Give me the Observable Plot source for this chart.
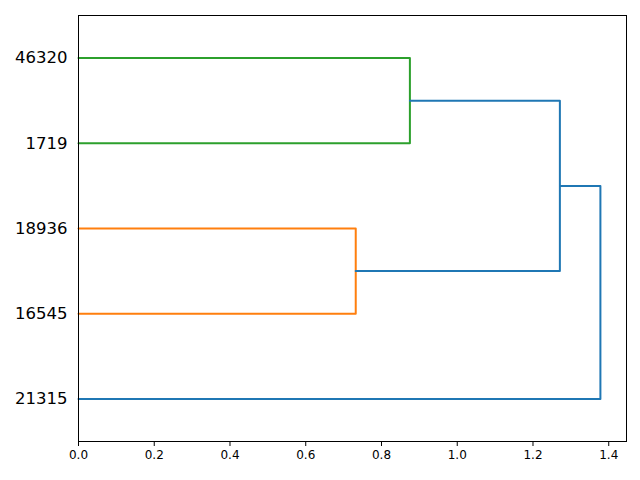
<!DOCTYPE html>
<html>
<head>
<meta charset="utf-8">
<script src="https://cdn.jsdelivr.net/npm/d3@7"></script>
<script src="https://cdn.jsdelivr.net/npm/@observablehq/plot@0.6"></script>
<style>
  body { margin: 0; background: #fff; }
  svg { display: block; }
</style>
</head>
<body>
<div id="chart"></div>
<script>
// Leaves, bottom to top
const leaves = ["21315", "16545", "18936", "1719", "46320"];
// Merges (children by leaf label or merge index "m#"), height, colour
const mergeLeft   = ["16545", "1719",  "m0",    "21315"];
const mergeRight  = ["18936", "46320", "m1",    "m2"];
const mergeHeight = [0.732,   0.875,   1.271,   1.378];
const linkColor   = ["#ff7f0e", "#2ca02c", "#1f77b4", "#1f77b4"];
const xTicks = [0, 0.2, 0.4, 0.6, 0.8, 1.0, 1.2, 1.4];

// Build dendrogram geometry (scipy style: leaves at 5, 15, 25, ...)
const pos = {}, hgt = {};
leaves.forEach((l, i) => { pos[l] = 5 + 10 * i; hgt[l] = 0; });
const pts = [];
mergeLeft.forEach((a, i) => {
  const b = mergeRight[i], h = mergeHeight[i], id = "m" + i;
  pos[id] = (pos[a] + pos[b]) / 2; hgt[id] = h;
  [[hgt[a], pos[a]], [h, pos[a]], [h, pos[b]], [hgt[b], pos[b]]]
    .forEach(([x, y]) => pts.push({x, y, link: i, color: linkColor[i]}));
});
const maxH = d3.max(mergeHeight);
const leafTicks = leaves.map((l, i) => 5 + 10 * i);

const chart = Plot.plot({
  width: 640,
  height: 480,
  marginLeft: 78,
  marginRight: 14,
  marginTop: 15,
  marginBottom: 39,
  style: {fontFamily: "DejaVu Sans", fontSize: "12px", color: "#000", background: "#fff"},
  x: {domain: [0, maxH * 1.05]},
  y: {domain: [0, 10 * leaves.length]},
  marks: [
    Plot.line(pts, {x: "x", y: "y", z: "link", stroke: "color", strokeWidth: 2, curve: "linear"}),
    Plot.axisX({ticks: xTicks, tickFormat: d3.format(".1f"), tickSize: 5, tickPadding: 4, fontSize: "12px", label: null}),
    Plot.axisY({ticks: leafTicks, tickFormat: (d) => leaves[(d - 5) / 10], tickSize: 0, tickPadding: 11, fontSize: "16.5px", label: null}),
    Plot.frame({stroke: "#000", strokeWidth: 1})
  ]
});
document.getElementById("chart").appendChild(chart);
</script>
</body>
</html>
